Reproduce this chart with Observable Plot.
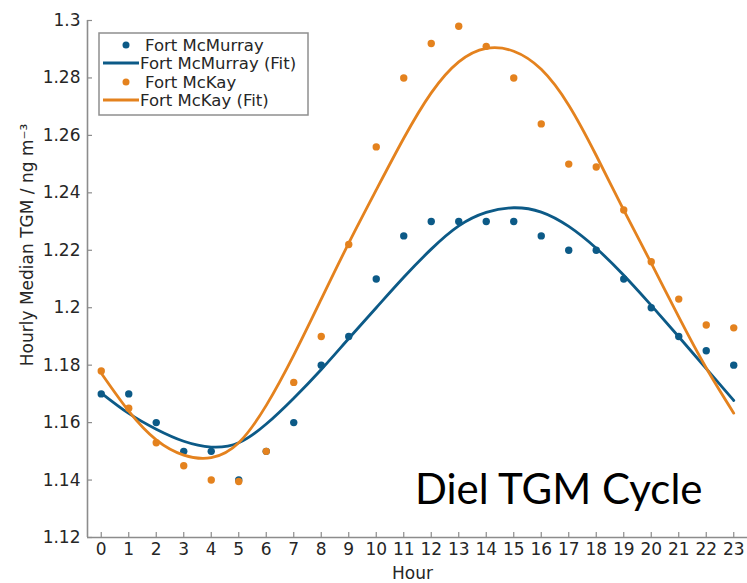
<!DOCTYPE html>
<html>
<head>
<meta charset="utf-8">
<script src="https://cdn.jsdelivr.net/npm/d3@7"></script>
<script src="https://cdn.jsdelivr.net/npm/@observablehq/plot@0.6"></script>
<style>
  html, body { margin: 0; padding: 0; background: #fff; }
  #wrap { position: relative; width: 747px; height: 583px; }
  #legend { position: absolute; left: 0; top: 0; pointer-events: none; }
</style>
</head>
<body>
<div id="wrap"></div>
<script>
// ---- data ----
const hours = [0,1,2,3,4,5,6,7,8,9,10,11,12,13,14,15,16,17,18,19,20,21,22,23];
const mcmurrayObs = [1.170,1.170,1.160,1.150,1.150,1.140,1.150,1.160,1.180,1.190,1.210,1.225,1.230,1.230,1.230,1.230,1.225,1.220,1.220,1.210,1.200,1.190,1.185,1.180];
const mcmurrayFit = [1.1703,1.1632,1.1577,1.1535,1.1515,1.1530,1.1595,1.1685,1.1785,1.1893,1.2000,1.2106,1.2204,1.2285,1.2332,1.2348,1.2333,1.2283,1.2207,1.2113,1.2008,1.1899,1.1788,1.1677];
const mckayObs = [1.178,1.165,1.153,1.145,1.140,1.1395,1.150,1.174,1.190,1.222,1.256,1.280,1.292,1.298,1.291,1.280,1.264,1.250,1.249,1.234,1.216,1.203,1.194,1.193];
const mckayFit = [1.1772,1.1640,1.1540,1.1487,1.1478,1.1530,1.1660,1.1835,1.2030,1.2225,1.2410,1.2590,1.2748,1.2856,1.2903,1.2893,1.2830,1.2705,1.2530,1.2340,1.2155,1.1968,1.1790,1.1633];
const yTicks = [1.12,1.14,1.16,1.18,1.2,1.22,1.24,1.26,1.28,1.3];
const xDomain = [-0.5, 23.5];
const yDomain = [1.12, 1.3];
const seriesNames = ["Fort McMurray", "Fort McMurray (Fit)", "Fort McKay", "Fort McKay (Fit)"];
const colors = {blue: "#0c5a87", orange: "#e4821e"};
const annotation = ["Diel TGM Cycle"];
const xLabel = "Hour";
const yLabel = "Hourly Median TGM / ng m\u207B\u00B3";

const blueObs = hours.map((h, i) => ({h, v: mcmurrayObs[i]}));
const blueFit = hours.map((h, i) => ({h, v: mcmurrayFit[i]}));
const orangeObs = hours.map((h, i) => ({h, v: mckayObs[i]}));
const orangeFit = hours.map((h, i) => ({h, v: mckayFit[i]}));

const font = "'DejaVu Sans', sans-serif";
const axisGray = "#8c8c8c";
const textGray = "#262626";

const chart = Plot.plot({
  width: 747,
  height: 583,
  marginLeft: 87,
  marginRight: 0,
  marginTop: 20,
  marginBottom: 46,
  style: {fontFamily: font, fontSize: "17px", color: textGray, background: "#fff"},
  x: {domain: xDomain, ticks: hours},
  y: {domain: yDomain, ticks: yTicks},
  marks: [
    // axis lines
    Plot.ruleX([xDomain[0]], {stroke: axisGray, strokeWidth: 1.6}),
    Plot.ruleY([yDomain[0]], {stroke: axisGray, strokeWidth: 1.6}),
    // inward ticks
    Plot.axisY(yTicks, {tickSize: 5, dx: 5, text: null, stroke: axisGray, strokeWidth: 1.2, label: null}),
    Plot.axisX(hours, {tickSize: 5, dy: -5, text: null, stroke: axisGray, strokeWidth: 1.2, label: null}),
    // tick labels
    Plot.axisY(yTicks, {tickSize: 0, tickPadding: 7, tickFormat: d => String(+d.toFixed(2)), fill: textGray, fontSize: 17, label: null}),
    Plot.axisX(hours, {tickSize: 0, tickPadding: 5, tickFormat: d => String(d), fill: textGray, fontSize: 17, label: null}),
    // axis titles
    Plot.text([xLabel], {text: d => d, frameAnchor: "bottom", dx: -5, dy: 36, lineAnchor: "middle", fill: textGray, fontSize: 17}),
    Plot.text([yLabel], {text: d => d, frameAnchor: "left", rotate: -90, dx: -60, dy: -34, lineAnchor: "middle", textAnchor: "middle", fill: textGray, fontSize: 17}),
    // data
    Plot.dot(blueObs, {x: "h", y: "v", r: 3.7, fill: colors.blue, stroke: "none"}),
    Plot.line(blueFit, {x: "h", y: "v", stroke: colors.blue, strokeWidth: 2.8, curve: "natural"}),
    Plot.dot(orangeObs, {x: "h", y: "v", r: 3.7, fill: colors.orange, stroke: "none"}),
    Plot.line(orangeFit, {x: "h", y: "v", stroke: colors.orange, strokeWidth: 2.8, curve: "natural"}),
    // annotation
    Plot.text(annotation, {text: d => d, frameAnchor: "bottom-right", textAnchor: "end", lineAnchor: "middle", dx: -45, dy: -47, fontFamily: "Lato, 'Open Sans', sans-serif", fontSize: 42, fill: "#000"})
  ]
});

const wrap = document.getElementById("wrap");
wrap.appendChild(chart);

// ---- legend overlay ----
const legend = d3.select(wrap).append("svg")
  .attr("id", "legend")
  .attr("width", 747).attr("height", 583);
legend.append("rect")
  .attr("x", 99).attr("y", 33).attr("width", 209).attr("height", 82)
  .attr("fill", "#fff").attr("stroke", "#8f8f8f").attr("stroke-width", 1.5);
const rows = [
  {name: seriesNames[0], color: colors.blue, type: "dot", y: 45},
  {name: seriesNames[1], color: colors.blue, type: "line", y: 63},
  {name: seriesNames[2], color: colors.orange, type: "dot", y: 82},
  {name: seriesNames[3], color: colors.orange, type: "line", y: 100}
];
for (const r of rows) {
  if (r.type === "dot") {
    legend.append("circle").attr("cx", 126).attr("cy", r.y).attr("r", 3.5).attr("fill", r.color);
  } else {
    legend.append("line").attr("x1", 103).attr("x2", 139).attr("y1", r.y).attr("y2", r.y)
      .attr("stroke", r.color).attr("stroke-width", 2.8);
  }
  legend.append("text")
    .attr("x", r.type === "dot" ? 145 : 140)
    .attr("y", r.y).attr("dy", "0.35em")
    .attr("font-family", font).attr("font-size", 16.5).attr("fill", textGray)
    .text(r.name);
}
</script>
</body>
</html>
